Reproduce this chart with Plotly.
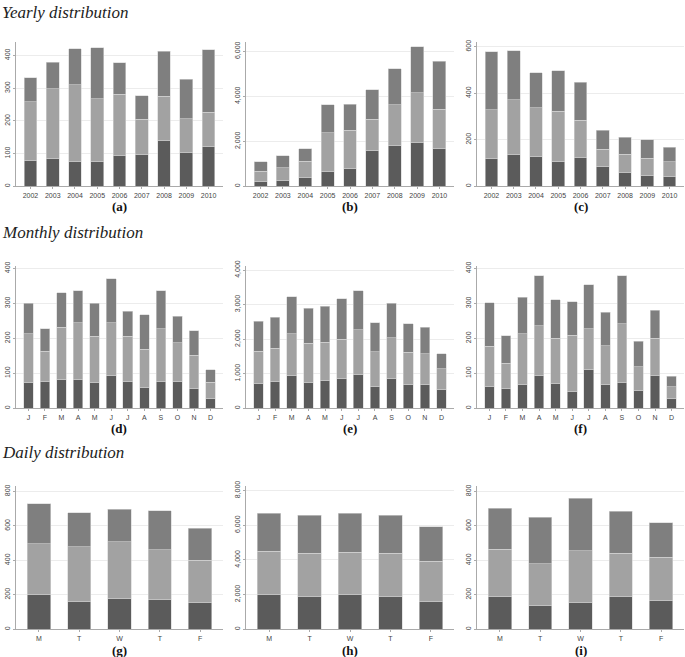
import plotly.graph_objects as go
from plotly.subplots import make_subplots

years = ["2002", "2003", "2004", "2005", "2006", "2007", "2008", "2009", "2010"]
months = ["J", "F", "M", "A", "M", "J", "J", "A", "S", "O", "N", "D"]
days = ["M", "T", "W", "T", "F"]

# cumulative tops: (dark, dark+light, total)
a_dark = [80, 84, 75, 76, 93, 98, 141, 104, 121]
a_mid = [259, 298, 311, 268, 282, 205, 275, 207, 226]
a_tot = [332, 379, 421, 424, 378, 276, 412, 327, 418]

b_dark = [220, 280, 412, 676, 808, 1602, 1793, 1955, 1676]
b_mid = [676, 823, 1117, 2381, 2484, 2984, 3616, 4160, 3425]
b_tot = [1088, 1352, 1676, 3631, 3646, 4292, 5233, 6203, 5557]

c_dark = [119, 138, 129, 105, 122, 84, 58, 47, 41]
c_mid = [330, 373, 338, 322, 284, 159, 138, 121, 105]
c_tot = [579, 584, 489, 496, 447, 241, 211, 200, 169]

d_dark = [75, 76, 83, 83, 75, 94, 77, 59, 76, 77, 56, 29]
d_mid = [213, 163, 232, 244, 206, 244, 206, 169, 227, 187, 152, 74]
d_tot = [301, 227, 331, 336, 300, 370, 278, 268, 336, 263, 222, 110]

e_dark = [708, 766, 957, 746, 813, 852, 967, 632, 852, 689, 699, 536]
e_mid = [1656, 1742, 2153, 1885, 1914, 2000, 2278, 1636, 2048, 1627, 1579, 1139]
e_tot = [2526, 2641, 3225, 2900, 2948, 3168, 3397, 2479, 3034, 2440, 2345, 1579]

f_dark = [63, 56, 69, 94, 71, 48, 110, 68, 73, 50, 95, 27]
f_mid = [178, 129, 213, 236, 200, 209, 228, 179, 242, 119, 200, 62]
f_tot = [302, 207, 317, 379, 311, 305, 353, 275, 379, 192, 280, 91]

g_dark = [204, 162, 177, 171, 154]
g_mid = [495, 480, 507, 461, 400]
g_tot = [728, 676, 697, 688, 585]

h_dark = [1985, 1908, 1985, 1888, 1618]
h_mid = [4509, 4374, 4451, 4374, 3911]
h_tot = [6686, 6570, 6686, 6570, 5915]

i_dark = [189, 139, 156, 192, 164]
i_mid = [465, 381, 457, 442, 419]
i_tot = [703, 650, 760, 686, 619]

panel_labels = ["(a)", "(b)", "(c)", "(d)", "(e)", "(f)", "(g)", "(h)", "(i)"]
section_titles = ["Yearly distribution", "Monthly distribution", "Daily distribution"]

panels = [
    (years, a_dark, a_mid, a_tot, 442, 100),
    (years, b_dark, b_mid, b_tot, 6430, 2000),
    (years, c_dark, c_mid, c_tot, 622, 200),
    (months, d_dark, d_mid, d_tot, 408, 100),
    (months, e_dark, e_mid, e_tot, 4130, 1000),
    (months, f_dark, f_mid, f_tot, 408, 100),
    (days, g_dark, g_mid, g_tot, 834, 200),
    (days, h_dark, h_mid, h_tot, 8290, 2000),
    (days, i_dark, i_mid, i_tot, 834, 200),
]

W, H = 685, 657
col_px = [(16, 223), (246, 454), (477, 684)]
row_px = [(37, 183), (263, 407), (485, 630)]
row_off = [0.65, 0.75, 0.57]
label_y = [203, 427, 651]
title_y = [8, 230, 452]

C_DARK = "#5b5b5b"
C_LIGHT = "#a2a2a2"
C_MED = "#7f7f7f"

fig = make_subplots(rows=3, cols=3)

for k, (cats, dark, mid, tot, ymax, dtick) in enumerate(panels):
    r, c = divmod(k, 3)
    xs = list(range(len(cats)))
    light = [m - d for m, d in zip(mid, dark)]
    med = [t - m for t, m in zip(tot, mid)]
    for vals, col in ((dark, C_DARK), (light, C_LIGHT), (med, C_MED)):
        fig.add_trace(go.Bar(x=xs, y=vals, marker=dict(color=col, line=dict(color="#d4d4d4", width=0.6)),
                             showlegend=False, hoverinfo="skip"), row=r + 1, col=c + 1)
    idx = k + 1
    xa = "xaxis" if idx == 1 else f"xaxis{idx}"
    ya = "yaxis" if idx == 1 else f"yaxis{idx}"
    x0, x1 = col_px[c]
    y0, y1 = row_px[r]
    n = len(cats)
    fig.layout[xa].update(
        domain=[x0 / W, x1 / W], range=[-row_off[r], n - 1 + row_off[r]],
        tickmode="array", tickvals=xs, ticktext=cats,
        tickfont=dict(family="Liberation Sans", size=7, color="#444"),
        showgrid=False, zeroline=False, showline=True, linecolor="#aaaaaa", linewidth=1,
        ticks="outside", ticklen=2, tickcolor="#aaaaaa", fixedrange=True,
    )
    fig.layout[ya].update(
        domain=[1 - y1 / H, 1 - y0 / H], range=[0, ymax], dtick=dtick, tick0=0,
        tickformat=",", tickangle=-90,
        tickfont=dict(family="Liberation Sans", size=7, color="#444"),
        showgrid=True, gridcolor="#ececec", gridwidth=1, zeroline=False,
        showline=True, linecolor="#aaaaaa", linewidth=1,
        ticks="outside", ticklen=2, tickcolor="#aaaaaa", fixedrange=True,
    )
    fig.add_annotation(text="<b>" + panel_labels[k] + "</b>", xref="paper", yref="paper",
                       x=(x0 + x1) / 2 / W, y=1 - label_y[r] / H, showarrow=False,
                       font=dict(family="Liberation Serif", size=13, color="#111"),
                       xanchor="center", yanchor="middle")

for r in range(3):
    fig.add_annotation(text="<i>" + section_titles[r] + "</i>", xref="paper", yref="paper",
                       x=0.0, y=1 - title_y[r] / H, showarrow=False,
                       font=dict(family="Liberation Serif", size=17, color="#222"),
                       xanchor="left", yanchor="middle")

fig.update_layout(
    width=W, height=H, margin=dict(l=0, r=0, t=0, b=0),
    barmode="stack", bargap=0.42,
    plot_bgcolor="white", paper_bgcolor="white",
)

fig.write_html("out.html", config={"displayModeBar": False, "staticPlot": True},
               post_script="document.body.style.margin='0';document.body.style.overflow='hidden';")
